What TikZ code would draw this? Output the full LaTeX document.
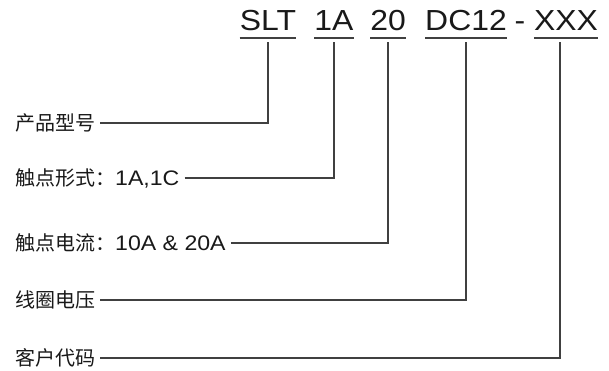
\documentclass[tikz,border=0pt]{standalone}
\usepackage{fontspec}
\setmainfont{Liberation Sans}[FakeStretch=1.1]
\newfontfamily\cjk{Noto Sans CJK SC}
\usetikzlibrary{positioning}

\newcommand\latin[1]{{\fontsize{21}{21}\selectfont #1}}

\tikzset{
  code/.style={anchor=base, inner sep=0pt, font=\fontsize{29}{29}\selectfont, text=black!90},
  desc/.style={anchor=west, inner xsep=5pt, inner ysep=0pt, font=\fontsize{20}{20}\selectfont, text=black!90},
  lead/.style={draw=black!75, line width=1.2pt},
}

\begin{document}
\begin{tikzpicture}[x=1pt,y=-1pt]
\useasboundingbox[fill=white] (0,0) rectangle (609,370);

% part number
\node[code] (slt) at (268,30) {SLT};
\node[code] (contact) at (334,30) {1A};
\node[code] (rating) at (388,30) {20};
\node[code] (coil) at (466,30) {DC12};
\node[code] (sep) at (520,30) {-};
\node[code] (cust) at (566,30) {XXX};
\foreach \n in {slt,contact,rating,coil,cust}
  \draw[lead] ([yshift=-8pt]\n.base west) -- ([yshift=-8pt]\n.base east);

% descriptions
\node[desc] (lmodel) at (10,123) {\cjk 产品型号};
\node[desc] (lform) at (10,178) {{\cjk 触点形式：}\latin{1A,1C}};
\node[desc] (lcur) at (10,243) {{\cjk 触点电流：}\latin{10A \& 20A}};
\node[desc] (lcoil) at (10,300) {\cjk 线圈电压};
\node[desc] (lcode) at (10,358) {\cjk 客户代码};

\draw[lead] (lmodel.east) -| ([yshift=-12pt]slt.base);
\draw[lead] (lform.east) -| ([yshift=-12pt]contact.base);
\draw[lead] (lcur.east) -| ([yshift=-12pt]rating.base);
\draw[lead] (lcoil.east) -| ([yshift=-12pt]coil.base);
\draw[lead] (lcode.east) -| ([xshift=-6pt,yshift=-12pt]cust.base);
\end{tikzpicture}
\end{document}
